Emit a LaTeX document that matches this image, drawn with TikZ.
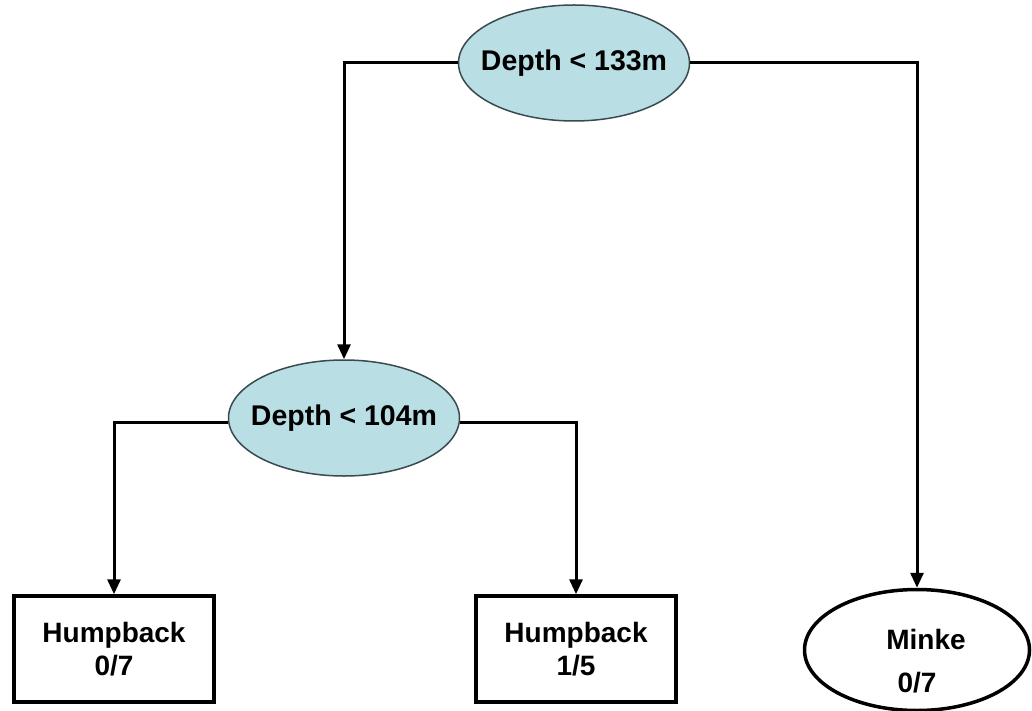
\documentclass[tikz,border=0pt]{standalone}
\usepackage{fontspec}
\setmainfont{Liberation Sans}
\usetikzlibrary{shapes.geometric,arrows.meta}
\definecolor{splitfill}{HTML}{B9DFE5}
\definecolor{splitline}{HTML}{3A4A4E}
\tikzset{
  split/.style={ellipse, draw=splitline, line width=1.5pt, fill=splitfill, inner xsep=-12pt, inner ysep=0pt,
    minimum width=231pt, minimum height=116pt, font=\fontsize{28.5}{30}\selectfont\bfseries},
  leafbox/.style={rectangle, draw=black, line width=3.5pt, fill=white, inner sep=0pt,
    minimum width=200pt, minimum height=106pt, align=center,
    font=\fontsize{28}{33}\selectfont\bfseries},
  leafoval/.style={ellipse, draw=black, line width=3.5pt, fill=white, inner xsep=-10pt, inner ysep=0pt,
    minimum width=225pt, minimum height=113pt, align=center,
    font=\fontsize{28}{43}\selectfont\bfseries},
  conn/.style={draw=black, line width=3pt, -{Triangle[length=15pt,width=13pt]}}
}
\begin{document}
\begin{tikzpicture}[x=1pt,y=-1pt]
\useasboundingbox[fill=white] (0,0) rectangle (1032,711);
\node[split] (top) at (574,63) {Depth < 133m};
\node[split] (mid) at (344,418) {Depth < 104m};
\node[leafbox] (h1) at (114,649) {Humpback\\0/7};
\node[leafbox] (h2) at (576,649) {Humpback\\1/5};
\node[leafoval] (mk) at (917,650) {\rule{0pt}{42pt}\hspace*{18pt}Minke\\0/7};
\draw[conn] (top.west) -| (mid.north);
\draw[conn] (top.east) -| (mk.north);
\draw[conn] ([yshift=-4pt]mid.west) -| (h1.north);
\draw[conn] ([yshift=-4pt]mid.east) -| (h2.north);
\end{tikzpicture}
\end{document}
